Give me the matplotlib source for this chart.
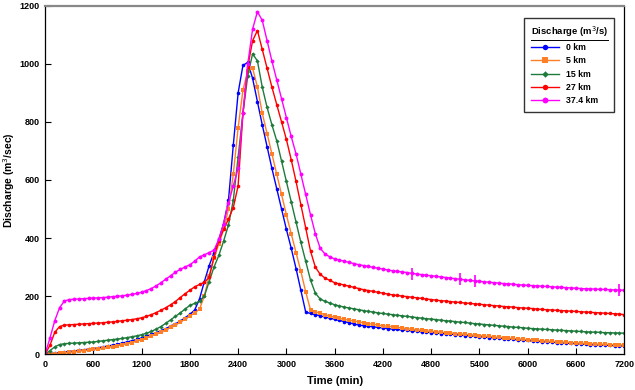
import numpy as np
import matplotlib
matplotlib.use("Agg")
import matplotlib.pyplot as plt
from matplotlib.lines import Line2D

plt.rcParams['font.family'] = ['Liberation Sans', 'DejaVu Sans']

# time axis (min), one reading every 60 min
time_min = list(range(0, 7201, 60))

q_0km = [0, 2, 4, 5, 7, 9, 11, 13, 15, 17,
         19, 22, 25, 28, 31, 34, 38, 42, 46, 51,
         56, 62, 68, 74, 81, 88, 96, 104, 114, 125,
         137, 152, 190, 250, 305, 350, 395, 450, 530, 720,
         900, 995, 1005, 950, 870, 790, 715, 640, 570, 500,
         430, 365, 295, 220, 145, 140, 136, 132, 128, 124,
         120, 116, 112, 108, 104, 100, 98, 96, 94, 92,
         90, 88, 86, 85, 83, 82, 80, 79, 77, 76,
         74, 73, 71, 70, 69, 67, 66, 64, 63, 62,
         60, 59, 57, 56, 55, 53, 52, 51, 49, 48,
         47, 45, 44, 43, 42, 41, 40, 39, 38, 37,
         36, 35, 34, 33, 32, 31, 31, 30, 29, 29, 28]

q_5km = [0, 1, 2, 3, 4, 6, 8, 10, 12, 14,
         16, 18, 20, 23, 26, 29, 32, 36, 40, 45,
         50, 56, 62, 69, 76, 84, 92, 100, 110, 120,
         132, 142, 155, 200, 270, 330, 380, 430, 500, 620,
         780, 910, 975, 985, 920, 830, 760, 690, 620, 550,
         480, 415, 350, 285, 215, 152, 146, 141, 136, 131,
         127, 123, 120, 117, 114, 111, 108, 105, 103, 100,
         98, 96, 94, 92, 90, 88, 86, 84, 82, 80,
         79, 77, 76, 74, 73, 71, 70, 68, 67, 65,
         64, 62, 61, 59, 58, 57, 55, 54, 53, 51,
         50, 49, 47, 46, 45, 44, 43, 42, 41, 40,
         39, 38, 37, 36, 35, 34, 34, 33, 32, 32, 31]

q_15km = [0, 12, 25, 33, 36, 37, 38, 39, 40, 41,
          42, 44, 46, 48, 50, 52, 54, 57, 60, 63,
          67, 72, 78, 86, 95, 106, 118, 130, 142, 155,
          168, 175, 182, 200, 250, 300, 340, 390, 445, 530,
          680, 830, 960, 1035, 1010, 920, 850, 790, 735, 665,
          595, 525, 455, 385, 320, 255, 210, 190, 182, 176,
          170, 166, 162, 159, 156, 153, 150, 147, 145, 142,
          140, 138, 136, 134, 132, 130, 128, 126, 124, 122,
          121, 119, 117, 115, 114, 112, 110, 109, 107, 105,
          104, 102, 101, 99, 98, 96, 95, 93, 92, 91,
          89, 88, 87, 86, 85, 84, 83, 82, 81, 80,
          79, 78, 77, 76, 76, 75, 74, 74, 73, 73, 72]

q_27km = [0, 30, 75, 95, 100, 101, 102, 103, 104, 105,
          106, 107, 108, 110, 111, 113, 115, 117, 119, 122,
          125, 130, 136, 143, 151, 160, 170, 181, 195, 208,
          220, 232, 240, 247, 265, 335, 390, 430, 465, 505,
          580, 830, 990, 1080, 1115, 1050, 985, 920, 860, 800,
          740, 670, 595, 515, 435, 355, 300, 275, 262, 254,
          246, 242, 238, 234, 230, 226, 222, 219, 216, 213,
          210, 207, 204, 202, 200, 198, 196, 194, 192, 190,
          188, 186, 184, 183, 181, 179, 178, 176, 175, 173,
          172, 170, 169, 167, 166, 164, 163, 162, 160, 159,
          158, 157, 155, 154, 153, 152, 151, 150, 149, 148,
          147, 146, 145, 144, 143, 142, 141, 140, 139, 138, 136]

q_374km = [0, 55, 115, 160, 183, 188, 189, 190, 191, 192,
           193, 194, 195, 196, 198, 199, 201, 203, 206, 209,
           213, 219, 226, 235, 246, 258, 270, 282, 292, 300,
           308, 320, 335, 342, 350, 358, 395, 450, 520, 580,
           640, 830, 1000, 1120, 1180, 1150, 1080, 1010, 945, 880,
           815, 750, 690, 620, 550, 480, 415, 365, 345, 335,
           328, 324, 320, 316, 312, 308, 305, 302, 299, 296,
           293, 290, 287, 285, 283, 281, 278, 276, 274, 272,
           270, 268, 266, 264, 262, 260, 258, 256, 254, 252,
           251, 249, 248, 246, 245, 243, 242, 241, 239, 238,
           237, 236, 235, 234, 233, 232, 231, 230, 229, 228,
           227, 226, 225, 225, 224, 223, 223, 222, 221, 221, 220]

# small vertical marks seen on the 37.4 km curve
spike_t = [4560, 5160, 5340, 7140]
spike_q = [276, 258, 252, 221]

labels = ['0 km', '5 km', '15 km', '27 km', '37.4 km']
colors = ['#0000ff', '#ff7f27', '#1e7b3c', '#ff0000', '#ff00ff']
markers = ['o', 's', 'D', 'o', 'o']
sizes = [2.6, 2.6, 2.2, 2.6, 2.8]

fig = plt.figure(figsize=(6.35, 3.9), dpi=100)
ax = fig.add_axes([0.071, 0.092, 0.912, 0.893])

series = [q_0km, q_5km, q_15km, q_27km, q_374km]
for q, lab, c, m, s in zip(series, labels, colors, markers, sizes):
    ax.plot(time_min, q, color=c, marker=m, markersize=s, linewidth=1.0,
            markeredgewidth=0, label=lab)
ax.plot(spike_t, spike_q, linestyle='none', marker='|', markersize=9,
        markeredgewidth=1.2, color='#ff00ff')

ax.set_xlim(0, 7200)
ax.set_ylim(0, 1200)
ax.set_xticks(range(0, 7201, 600))
ax.set_yticks(range(0, 1201, 200))
ax.tick_params(direction='in', length=4, width=0.8, labelsize=6.5, pad=4)
for lab in ax.get_xticklabels() + ax.get_yticklabels():
    lab.set_fontweight('bold')

ax.spines['top'].set_color('#888888')
ax.spines['top'].set_linewidth(1.6)
for sp in ['left', 'bottom', 'right']:
    ax.spines[sp].set_linewidth(0.9)

ax.set_xlabel('Time (min)', fontsize=8, fontweight='bold', labelpad=5)
ax.set_ylabel('Discharge (m$^3$/sec)', fontsize=7.5, fontweight='bold', labelpad=2)

leg = ax.legend(loc='upper right', bbox_to_anchor=(0.99, 0.978), fontsize=6.3,
                title='Discharge (m$^3$/s)', title_fontsize=6.8, frameon=True,
                fancybox=False, edgecolor='black', handlelength=3.2,
                labelspacing=0.5, borderpad=0.7, markerscale=1.5,
                handletextpad=0.8)
leg.get_frame().set_linewidth(1.0)
leg.get_title().set_fontweight('bold')
for t in leg.get_texts():
    t.set_fontweight('bold')
leg._legend_box.align = 'left'

# underline the legend title
fig.canvas.draw()
bb = leg.get_title().get_window_extent().transformed(fig.transFigure.inverted())
fig.add_artist(Line2D([bb.x0, bb.x1], [bb.y0 - 0.003, bb.y0 - 0.003],
                      color='black', linewidth=0.7))

fig.savefig('out.png', dpi=100)
